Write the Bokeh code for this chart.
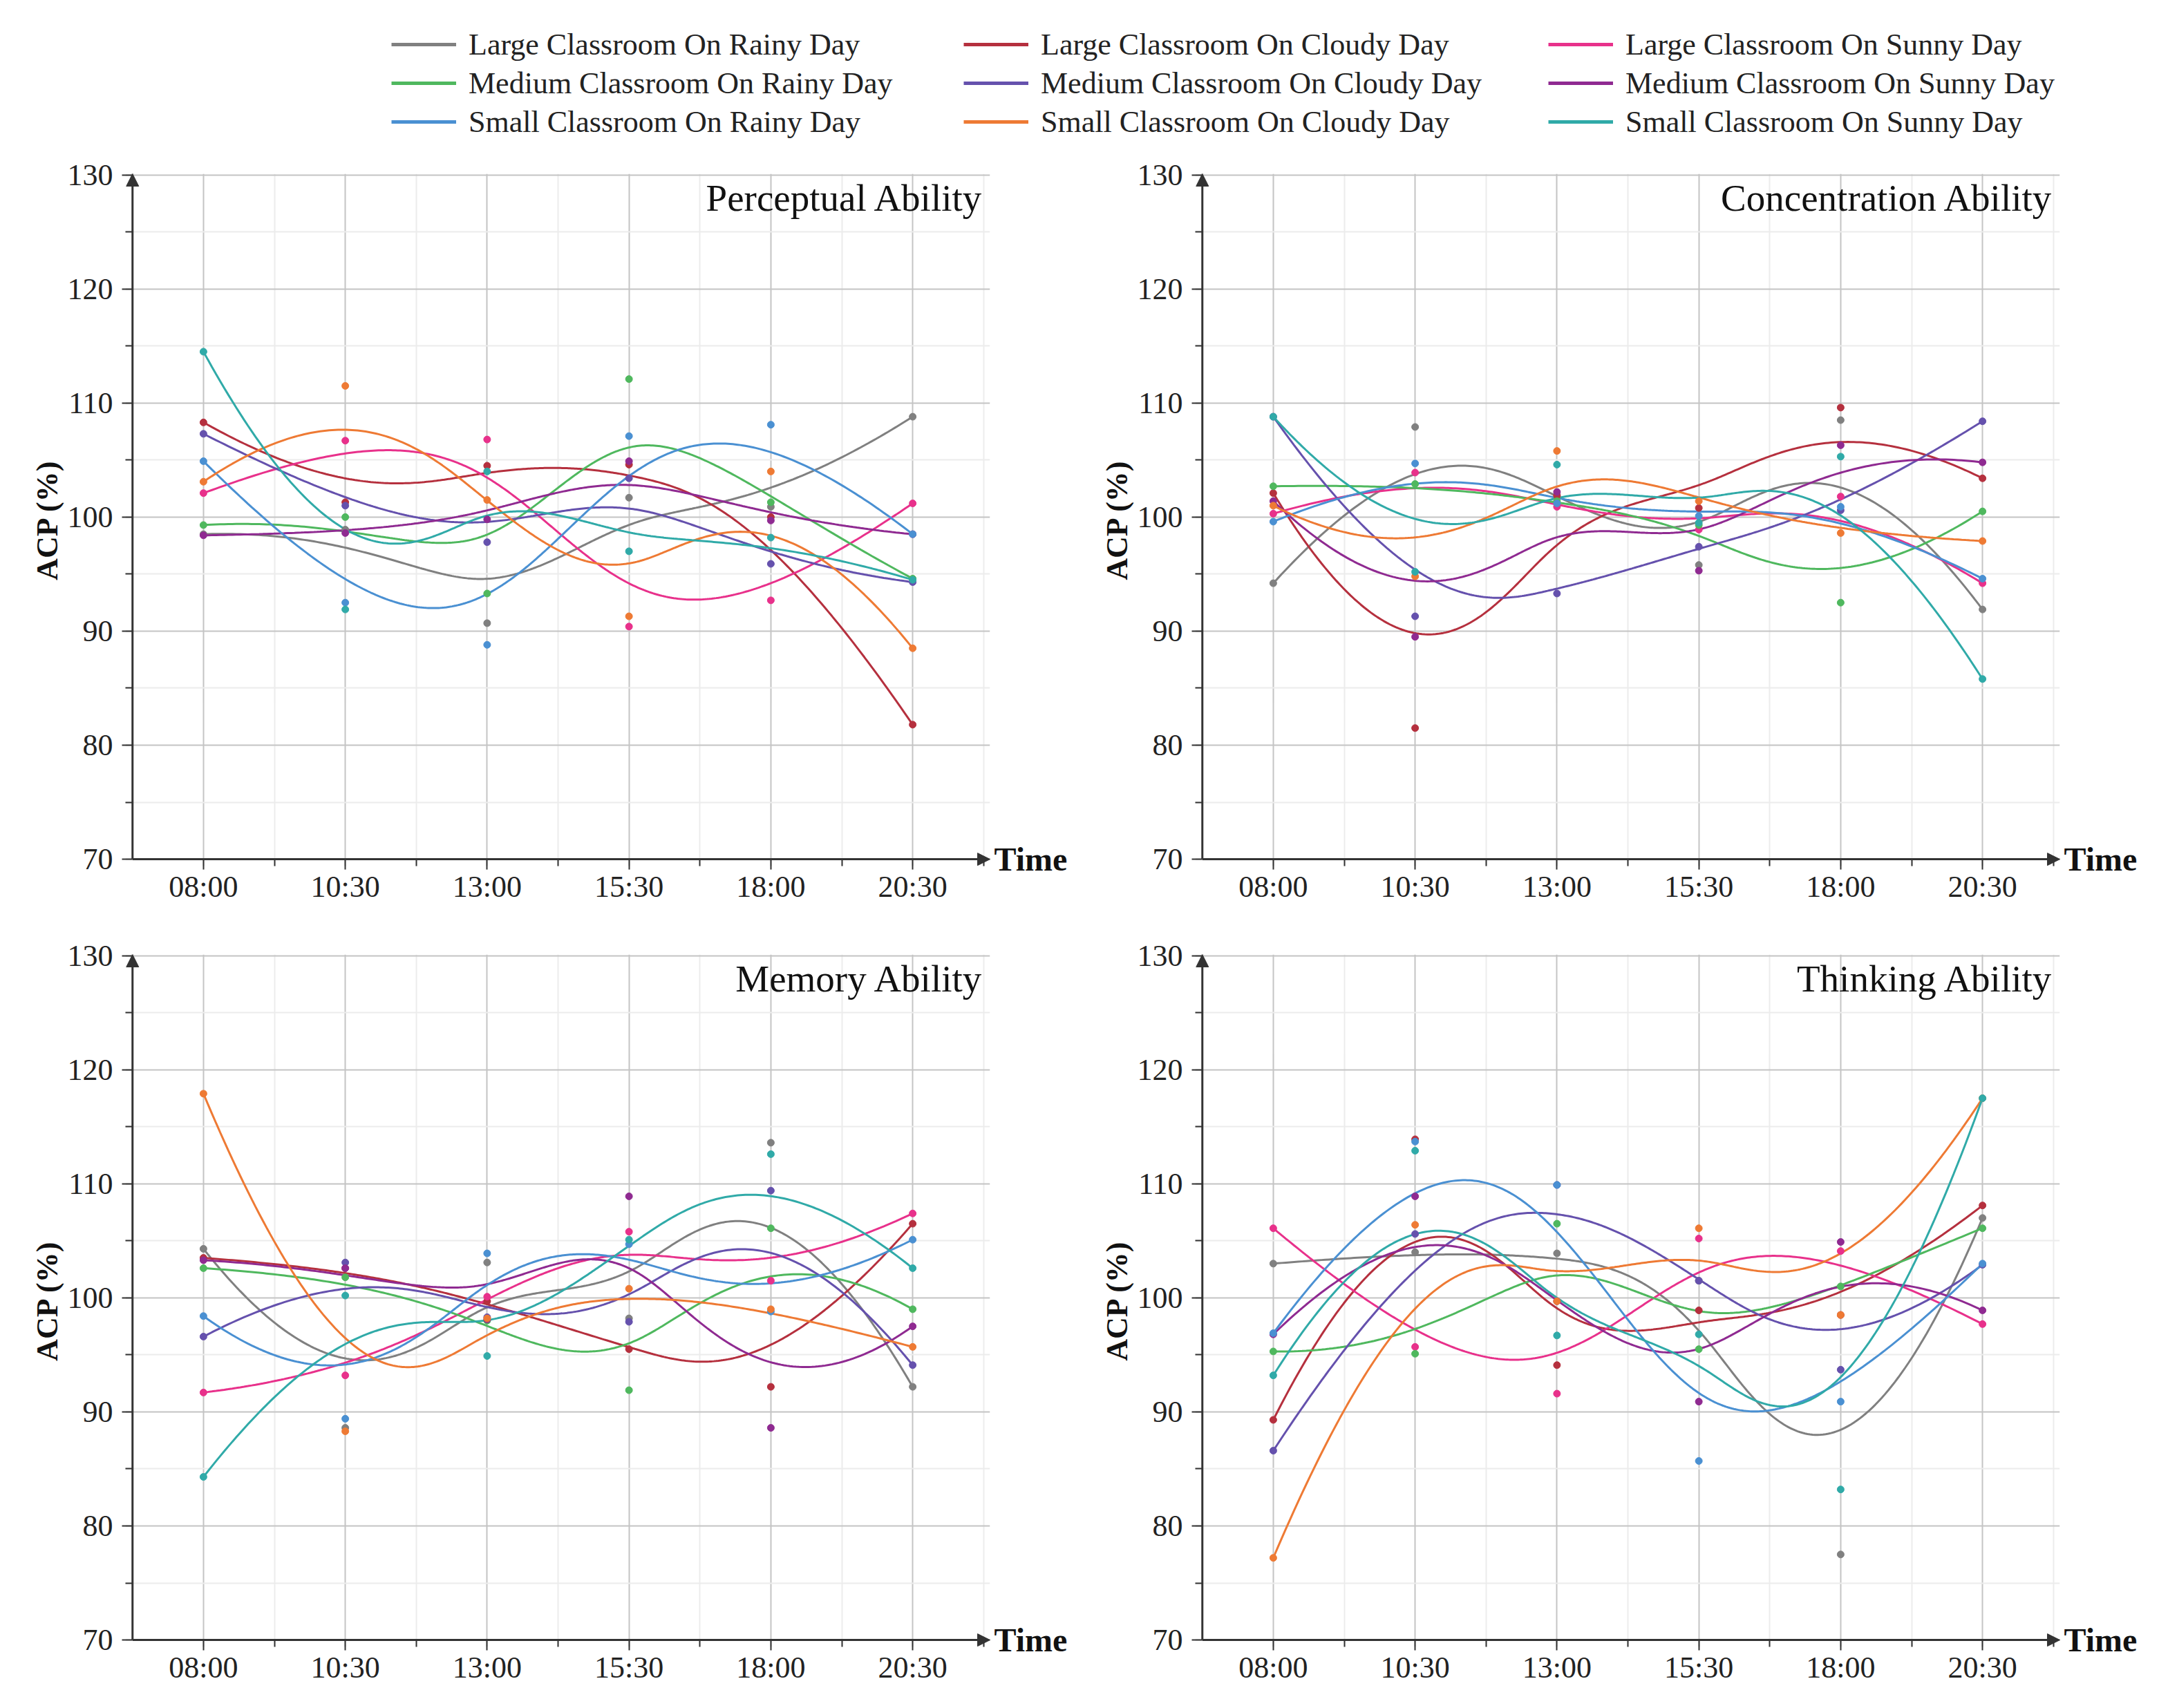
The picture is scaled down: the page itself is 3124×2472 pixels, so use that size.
import numpy as np
from bokeh.plotting import figure
from bokeh.models import Range1d, FixedTicker, Label, Arrow, NormalHead, Legend, LegendItem, LinearAxis
from bokeh.layouts import column, row
from bokeh.embed import file_html
from bokeh.resources import INLINE

# ---------------- data ----------------
times = ["08:00", "10:30", "13:00", "15:30", "18:00", "20:30"]

series_names = [
    "Large Classroom On Rainy Day", "Large Classroom On Cloudy Day", "Large Classroom On Sunny Day",
    "Medium Classroom On Rainy Day", "Medium Classroom On Cloudy Day", "Medium Classroom On Sunny Day",
    "Small Classroom On Rainy Day", "Small Classroom On Cloudy Day", "Small Classroom On Sunny Day",
]
colors = ["#808080", "#b5303e", "#e8318b", "#4fb85e", "#6551ad", "#8f2a91", "#4a90d2", "#ee7a34", "#30aaa8"]

# order of rows: same as series_names
perceptual = [
    [98.5, 98.9, 90.7, 101.7, 100.9, 108.8],
    [108.3, 101.3, 104.5, 104.6, 100.0, 81.8],
    [102.1, 106.7, 106.8, 90.4, 92.7, 101.2],
    [99.3, 100.0, 93.3, 112.1, 101.3, 94.6],
    [107.3, 101.0, 97.8, 103.4, 95.9, 94.3],
    [98.4, 98.6, 99.8, 104.9, 99.7, 98.5],
    [104.9, 92.5, 88.8, 107.1, 108.1, 98.5],
    [103.1, 111.5, 101.5, 91.3, 104.0, 88.5],
    [114.5, 91.9, 104.0, 97.0, 98.2, 94.5],
]
concentration = [
    [94.2, 107.9, 101.8, 95.8, 108.5, 91.9],
    [102.1, 81.5, 101.9, 100.8, 109.6, 103.4],
    [100.3, 103.9, 100.9, 98.9, 101.8, 94.2],
    [102.7, 102.9, 101.4, 99.3, 92.5, 100.5],
    [108.8, 91.3, 93.3, 97.4, 100.6, 108.4],
    [101.4, 89.5, 102.2, 95.3, 106.3, 104.8],
    [99.6, 104.7, 101.2, 100.1, 100.9, 94.6],
    [101.0, 94.8, 105.8, 101.4, 98.6, 97.9],
    [108.8, 95.2, 104.6, 99.5, 105.3, 85.8],
]
memory = [
    [104.3, 88.6, 103.1, 98.2, 113.6, 92.2],
    [103.5, 102.6, 99.7, 95.5, 92.2, 106.5],
    [91.7, 93.2, 100.1, 105.8, 101.5, 107.4],
    [102.6, 101.8, 98.0, 91.9, 106.1, 99.0],
    [96.6, 103.1, 98.3, 97.9, 109.4, 94.1],
    [103.3, 102.6, 98.1, 108.9, 88.6, 97.5],
    [98.4, 89.4, 103.9, 104.7, 98.8, 105.1],
    [117.9, 88.3, 98.2, 100.8, 99.0, 95.7],
    [84.3, 100.2, 94.9, 105.1, 112.6, 102.6],
]
thinking = [
    [103.0, 104.0, 103.9, 101.5, 77.5, 107.0],
    [89.3, 113.9, 94.1, 98.9, 98.5, 108.1],
    [106.1, 95.7, 91.6, 105.2, 104.1, 97.7],
    [95.3, 95.1, 106.5, 95.5, 101.0, 106.1],
    [86.6, 105.6, 109.9, 101.5, 93.7, 102.9],
    [96.8, 108.9, 99.7, 90.9, 104.9, 98.9],
    [96.9, 113.7, 109.9, 85.7, 90.9, 103.0],
    [77.2, 106.4, 99.7, 106.1, 98.5, 117.5],
    [93.2, 112.9, 96.7, 96.8, 83.2, 117.5],
]
panel_titles = ["Perceptual Ability", "Concentration Ability", "Memory Ability", "Thinking Ability"]
panel_data = [perceptual, concentration, memory, thinking]

y_major = [70, 80, 90, 100, 110, 120, 130]
y_minor = [75, 85, 95, 105, 115, 125]

FONT = "Liberation Serif"
AX = "#333333"


def bspline(ctrl, n=300, k=3):
    """Clamped cubic B-spline using the data points as control points."""
    c = np.asarray(ctrl, dtype=float)
    m = len(c)
    t = np.concatenate([np.zeros(k), np.linspace(0, 1, m - k + 1), np.ones(k)])
    u = np.linspace(0, 1, n)
    N = np.zeros((n, len(t) - 1))
    last = 0
    for i in range(len(t) - 1):
        if t[i] < t[i + 1]:
            N[:, i] = ((u >= t[i]) & (u < t[i + 1])).astype(float)
            last = i
    N[-1, :] = 0.0
    N[-1, last] = 1.0
    for p in range(1, k + 1):
        Nn = np.zeros((n, len(t) - 1 - p))
        for i in range(len(t) - 1 - p):
            a = t[i + p] - t[i]
            b = t[i + p + 1] - t[i + 1]
            term = np.zeros(n)
            if a > 0:
                term = term + (u - t[i]) / a * N[:, i]
            if b > 0:
                term = term + (t[i + p + 1] - u) / b * N[:, i + 1]
            Nn[:, i] = term
        N = Nn
    return N @ c


X_START = -0.55
X_AXIS = -0.5
X_END = 5.545
Y_START = 69.4
Y_AXIS = 70
Y_END = 130.1
FRAME_W = 1251
FRAME_H = 1002
TOP = 45


def make_panel(title, data, left, right, bottom):
    width = 1554
    height = TOP + FRAME_H + bottom
    p = figure(width=width, height=height, x_range=Range1d(X_START, X_END), y_range=Range1d(Y_START, Y_END),
               output_backend="svg", toolbar_location=None,
               min_border_left=left, min_border_right=right, min_border_top=TOP, min_border_bottom=bottom)
    p.outline_line_color = None
    p.background_fill_color = "white"

    xs_idx = list(range(len(times)))
    p.xaxis.ticker = FixedTicker(ticks=xs_idx, minor_ticks=[i - 0.5 for i in range(1, len(times) + 1)])
    p.xaxis.major_label_overrides = {i: t for i, t in enumerate(times)}
    p.yaxis.ticker = FixedTicker(ticks=y_major, minor_ticks=y_minor)

    for ax in (p.xaxis, p.yaxis):
        ax.axis_line_color = None
        ax.major_tick_line_color = AX
        ax.major_tick_line_width = 2
        ax.minor_tick_line_color = AX
        ax.minor_tick_line_width = 2
        ax.major_label_text_font = FONT
        ax.major_label_text_font_size = "44px"
        ax.major_label_text_color = "#222222"
        ax.axis_label_text_font = FONT
        ax.axis_label_text_color = "#111111"

    # the frame edge sits 10 px outside the drawn axis lines (room for the arrow heads)
    p.xaxis.major_tick_in = 10
    p.xaxis.major_tick_out = 5
    p.xaxis.minor_tick_in = 10
    p.xaxis.minor_tick_out = 0
    p.xaxis.major_label_standoff = 0

    p.yaxis.major_tick_in = 10
    p.yaxis.major_tick_out = 5
    p.yaxis.minor_tick_in = 10
    p.yaxis.minor_tick_out = 0
    p.yaxis.major_label_standoff = 13
    p.yaxis.axis_label = "ACP (%)"
    p.yaxis.axis_label_text_font_size = "44px"
    p.yaxis.axis_label_text_font_style = "bold"
    p.yaxis.axis_label_standoff = 2

    for g in (p.xgrid, p.ygrid):
        g.grid_line_color = "#c4c4c4"
        g.grid_line_width = 2
        g.minor_grid_line_color = "#ececec"
        g.minor_grid_line_width = 2

    for vals, col in zip(data, colors):
        cx = bspline(xs_idx)
        cy = bspline(vals)
        p.line(cx, cy, line_color=col, line_width=3)
    for vals, col in zip(data, colors):
        p.scatter(xs_idx, vals, size=10, fill_color=col, line_color=col)

    # axis lines with arrow heads
    p.add_layout(Arrow(end=NormalHead(size=18, fill_color=AX, line_color=AX, line_width=1),
                       x_start=X_AXIS, y_start=Y_AXIS, x_end=X_END, y_end=Y_AXIS, line_color=AX, line_width=3))
    p.add_layout(Arrow(end=NormalHead(size=18, fill_color=AX, line_color=AX, line_width=1),
                       x_start=X_AXIS, y_start=Y_AXIS, x_end=X_AXIS, y_end=Y_END, line_color=AX, line_width=3))

    p.add_layout(Label(x=5.5, y=128, text=title, text_align="right", text_baseline="middle",
                       text_font=FONT, text_font_size="55px", text_color="#111111"))

    # "Time" at the arrow end, as a label of a right-hand axis at y = 70
    tax = LinearAxis(ticker=FixedTicker(ticks=[Y_AXIS]), major_label_overrides={Y_AXIS: "Time"},
                     axis_line_color=None, major_tick_line_color=None, minor_tick_line_color=None,
                     major_label_standoff=0, major_label_text_font=FONT, major_label_text_font_size="48px",
                     major_label_text_font_style="bold", major_label_text_color="#111111")
    p.add_layout(tax, "right")
    return p


# ---------------- legend strip ----------------
leg = figure(width=3108, height=206, x_range=Range1d(0, 1), y_range=Range1d(0, 1),
             output_backend="svg", toolbar_location=None,
             min_border_left=0, min_border_right=0, min_border_top=0, min_border_bottom=0)
leg.axis.visible = False
leg.grid.visible = False
leg.outline_line_color = None

# proxy renderers for the legend only (kept outside the visible range)
dummy = [leg.line(x=[5, 6], y=[5, 5], line_color=c, line_width=5) for c in colors]
col_x = [566, 1394, 2240]
for ci in range(3):
    items = [LegendItem(label=series_names[ci + 3 * r], renderers=[dummy[ci + 3 * r]]) for r in range(3)]
    lg = Legend(items=items, location=(col_x[ci], 2), orientation="vertical",
                padding=0, margin=0, spacing=0, glyph_width=94, glyph_height=56, label_height=56,
                label_standoff=18, label_text_font=FONT, label_text_font_size="44px",
                label_text_color="#222222", border_line_alpha=0, background_fill_alpha=0)
    leg.add_layout(lg, "center")

panels = []
for idx, (title, data) in enumerate(zip(panel_titles, panel_data)):
    c = idx % 2
    r = idx // 2
    left = 181 if c == 0 else 175
    right = 1554 - left - FRAME_W
    bottom = 83 if r == 0 else 73
    panels.append(make_panel(title, data, left, right, bottom))

layout = column(leg, row(panels[0], panels[1]), row(panels[2], panels[3]))

open("out.html", "w").write(file_html(layout, INLINE))
